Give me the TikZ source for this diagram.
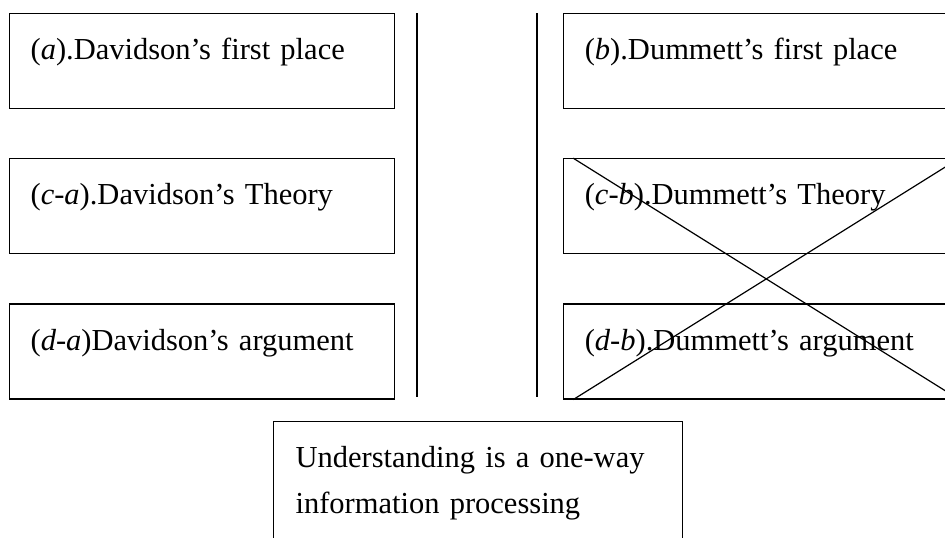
\documentclass[tikz,border=0pt]{standalone}
\usepackage{fontspec}
\setmainfont{Liberation Serif}
\usetikzlibrary{positioning}

\begin{document}
\begin{tikzpicture}[
    x=1pt, y=-1pt,
    font=\fontsize{30.5}{46}\selectfont,
    node distance=49pt and 168pt,
    box/.style={
        draw,
        line width=1.2pt,
        minimum width=385pt,
        text width=343pt,
        inner xsep=21pt,
        inner ysep=0pt,
        text height=46pt,
        text depth=49pt,
        align=left
    },
    mainbox/.style={box, anchor=north west, text width=365pt,
                    inner xsep=22pt, text height=, text depth=,
                    minimum height=124pt},
    divider/.style={line width=1.2pt},
    strike/.style={line width=1.2pt}
]

\clip (0,0) rectangle (945,538);

\node[box, anchor=north west] (a) at (9,13) {(\textit{a}).Davidson's first place};
\node[box, below=of a] (ca) {(\textit{c-a}).Davidson's Theory};
\node[box, below=of ca] (da) {(\textit{d-a})Davidson's argument};

\node[box, right=of a] (b) {(\textit{b}).Dummett's first place};
\node[box, below=of b] (cb) {(\textit{c-b}).Dummett's Theory};
\node[box, below=of cb] (db) {(\textit{d-b}).Dummett's argument};

% the two dividers between the columns
\coordinate (divLtop) at (417,13);
\coordinate (divLbot) at (417,397);
\coordinate (divRtop) at (537,13);
\coordinate (divRbot) at (537,397);
\draw[divider] (divLtop) -- (divLbot);
\draw[divider] (divRtop) -- (divRbot);

% Dummett's theory and argument are crossed out
\draw[strike] ([xshift=10pt]cb.north west) -- ([xshift=10pt]db.south east);
\draw[strike] ([xshift=10pt]db.south west) -- ([xshift=10pt]cb.north east);

\node[mainbox] (under) at (273,421)
    {Understanding is a one-way\\information processing};

\end{tikzpicture}
\end{document}
